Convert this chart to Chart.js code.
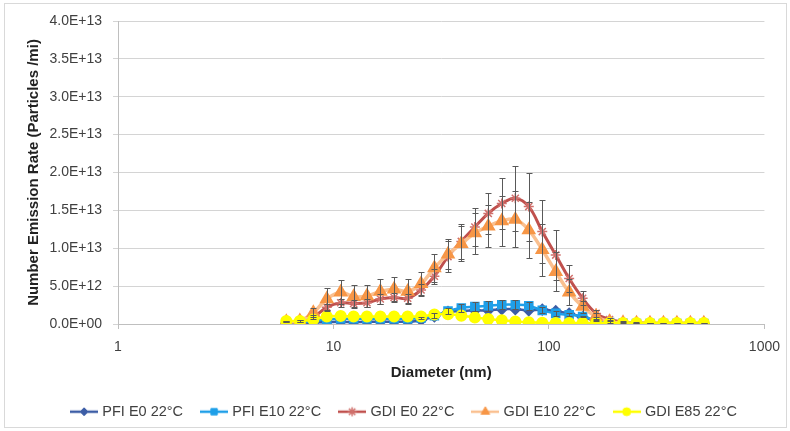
<!DOCTYPE html>
<html>
<head>
<meta charset="utf-8">
<title>Number Emission Rate vs Diameter</title>
<script src="https://cdn.jsdelivr.net/npm/chart.js@4.4.1/dist/chart.umd.min.js"></script>
<style>
  html, body { margin: 0; padding: 0; background: #fff; }
  #wrap { width: 790px; height: 431px; }
</style>
</head>
<body>
<div id="wrap"><canvas id="psd" width="790" height="431"></canvas></div>
<script>
// particle diameters (nm), EEPS channels
var diameters = [6.04, 6.98, 8.06, 9.31, 10.8, 12.4, 14.3, 16.5, 19.1, 22.1, 25.5, 29.4,
  34.0, 39.2, 45.3, 52.3, 60.4, 69.8, 80.6, 93.1, 107.5, 124.1, 143.3, 165.5,
  191.1, 220.7, 254.8, 294.3, 339.8, 392.4, 453.2, 523.3];

var seriesNames = ['PFI E0 22°C', 'PFI E10 22°C', 'GDI E0 22°C', 'GDI E10 22°C', 'GDI E85 22°C'];

var pfiE0 = [0.1e12, 0.1e12, 0.2e12, 0.25e12, 0.3e12, 0.25e12, 0.3e12, 0.3e12, 0.3e12, 0.3e12, 0.5e12, 1.0e12,
  1.6e12, 1.7e12, 1.8e12, 1.8e12, 1.95e12, 1.95e12, 1.8e12, 1.9e12, 1.7e12, 1.4e12, 0.9e12, 0.4e12,
  0.1e12, 0.05e12, 0.05e12, 0.05e12, 0.05e12, 0.05e12, 0.05e12, 0.05e12];

var pfiE10 = [0.2e12, 0.2e12, 0.4e12, 0.6e12, 0.7e12, 0.7e12, 0.7e12, 0.7e12, 0.7e12, 0.7e12, 0.8e12, 1.1e12,
  1.7e12, 2.1e12, 2.3e12, 2.4e12, 2.55e12, 2.55e12, 2.4e12, 1.8e12, 1.4e12, 1.2e12, 1.0e12, 0.5e12,
  0.2e12, 0.1e12, 0.05e12, 0.05e12, 0.05e12, 0.05e12, 0.05e12, 0.05e12];

var gdiE0 = [0.3e12, 0.4e12, 0.9e12, 2.2e12, 2.8e12, 2.7e12, 2.8e12, 3.3e12, 3.5e12, 3.4e12, 4.5e12, 6.3e12,
  8.9e12, 10.9e12, 12.8e12, 14.6e12, 15.9e12, 16.6e12, 15.5e12, 12.2e12, 9.1e12, 6.0e12, 3.4e12, 1.4e12,
  0.6e12, 0.25e12, 0.15e12, 0.12e12, 0.1e12, 0.1e12, 0.1e12, 0.1e12];

var gdiE10 = [0.3e12, 0.4e12, 1.5e12, 3.3e12, 4.2e12, 3.6e12, 3.7e12, 4.3e12, 4.6e12, 4.3e12, 5.3e12, 7.4e12,
  9.2e12, 10.6e12, 12.0e12, 12.9e12, 13.6e12, 13.8e12, 12.4e12, 9.8e12, 6.9e12, 4.2e12, 2.3e12, 1.0e12,
  0.3e12, 0.15e12, 0.1e12, 0.1e12, 0.1e12, 0.1e12, 0.1e12, 0.1e12];

var gdiE85 = [0.4e12, 0.4e12, 0.6e12, 1.0e12, 1.05e12, 1.0e12, 1.0e12, 1.0e12, 1.0e12, 1.0e12, 1.0e12, 1.25e12,
  1.3e12, 1.1e12, 0.85e12, 0.65e12, 0.5e12, 0.32e12, 0.22e12, 0.15e12, 0.12e12, 0.12e12, 0.12e12, 0.12e12,
  0.12e12, 0.12e12, 0.12e12, 0.12e12, 0.12e12, 0.12e12, 0.12e12, 0.12e12];

// +/- error bar sizes
var pfiE10Err = [0, 0, 0, 0, 0, 0, 0, 0, 0, 0, 0.1e12, 0.3e12,
  0.4e12, 0.5e12, 0.6e12, 0.65e12, 0.6e12, 0.6e12, 0.5e12, 0.4e12, 0.3e12, 0.2e12, 0.1e12, 0.05e12,
  0, 0, 0, 0, 0, 0, 0, 0];

var gdiE0Err = [0.1e12, 0.1e12, 0.3e12, 0.5e12, 0.5e12, 0.5e12, 0.5e12, 0.6e12, 0.6e12, 0.6e12, 0.8e12, 1.0e12,
  2.0e12, 2.3e12, 2.5e12, 2.7e12, 3.4e12, 4.3e12, 4.5e12, 4.2e12, 3.3e12, 1.8e12, 0.9e12, 0.5e12,
  0.2e12, 0.1e12, 0.05e12, 0.05e12, 0.05e12, 0.05e12, 0.05e12, 0.05e12];

var gdiE10Err = [0.1e12, 0.1e12, 0.6e12, 1.5e12, 1.6e12, 1.5e12, 1.5e12, 1.7e12, 1.6e12, 1.6e12, 1.5e12, 1.9e12,
  2.0e12, 2.3e12, 2.7e12, 2.75e12, 3.3e12, 3.7e12, 3.7e12, 3.4e12, 2.6e12, 1.7e12, 0.8e12, 0.4e12,
  0.2e12, 0.1e12, 0.05e12, 0.05e12, 0.05e12, 0.05e12, 0.05e12, 0.05e12];

var xTicks = [1, 10, 100, 1000];

function points(vals) {
    return vals.map(function(v, i) { return {x: diameters[i], y: v}; });
}

// 0.0E+00 style labels like excel
function sciLabel(v) {
    if (v === 0) return '0.0E+00';
    var e = Math.floor(Math.log10(v) + 1e-9);
    var m = v / Math.pow(10, e);
    return m.toFixed(1) + 'E+' + String(e).padStart(2, '0');
}

// small line+marker icon for the legend
function legendIcon(lineColor, markerColor, style, radius, fill) {
    var c = document.createElement('canvas');
    c.width = 28; c.height = 12;
    var g = c.getContext('2d');
    g.strokeStyle = lineColor;
    g.lineWidth = 2.5;
    g.beginPath(); g.moveTo(0, 6); g.lineTo(28, 6); g.stroke();
    g.fillStyle = markerColor;
    g.strokeStyle = markerColor;
    g.lineWidth = fill ? 1 : 1.5;
    Chart.helpers.drawPoint(g, {pointStyle: style, radius: radius, rotation: 0, borderWidth: g.lineWidth}, 14, 6);
    return c;
}

var icons = [
    legendIcon('#3C5DA6', '#3C5DA6', 'rectRot', 4, true),
    legendIcon('#1F9FE8', '#1F9FE8', 'rect', 4.5, true),
    legendIcon('#C0504D', '#D0706C', 'star', 4.5, false),
    legendIcon('#FAC090', '#F79646', 'triangle', 5, true),
    legendIcon('#FFFF00', '#FFFF00', 'circle', 4, true)
];

var errorBars = {
    id: 'errorBars',
    afterDatasetsDraw: function(chart) {
        var ctx = chart.ctx, xs = chart.scales.x, ys = chart.scales.y, area = chart.chartArea;
        ctx.save();
        ctx.beginPath();
        ctx.rect(area.left, area.top, area.right - area.left, area.bottom - area.top);
        ctx.clip();
        ctx.strokeStyle = '#595959';
        ctx.lineWidth = 1;
        chart.data.datasets.forEach(function(ds) {
            if (!ds.errors) return;
            ds.data.forEach(function(p, j) {
                var e = ds.errors[j];
                if (!e) return;
                var px = Math.round(xs.getPixelForValue(p.x)) + 0.5;
                var top = Math.round(ys.getPixelForValue(p.y + e)) + 0.5;
                var bot = Math.round(ys.getPixelForValue(p.y - e)) + 0.5;
                ctx.beginPath();
                ctx.moveTo(px, top); ctx.lineTo(px, bot);
                ctx.moveTo(px - 3, top); ctx.lineTo(px + 3, top);
                ctx.moveTo(px - 3, bot); ctx.lineTo(px + 3, bot);
                ctx.stroke();
            });
        });
        ctx.restore();
    }
};

var frame = {
    id: 'frame',
    beforeDraw: function(chart) {
        var ctx = chart.ctx;
        ctx.save();
        ctx.fillStyle = '#fff';
        ctx.fillRect(0, 0, chart.width, chart.height);
        ctx.strokeStyle = '#D9D9D9';
        ctx.lineWidth = 1;
        ctx.strokeRect(4.5, 3.5, 782, 424);
        ctx.restore();
    }
};

Chart.defaults.font.family = '"Liberation Sans", Arial, sans-serif';
Chart.defaults.color = '#404040';

var ctx = document.getElementById('psd').getContext('2d');
var chart = new Chart(ctx, {
    type: 'line',
    data: {
        datasets: [{
            label: seriesNames[0],
            data: points(pfiE0),
            borderColor: '#3C5DA6',
            backgroundColor: '#3C5DA6',
            pointStyle: 'rectRot',
            pointRadius: 4.5,
            borderWidth: 2.5,
            order: 4
        }, {
            label: seriesNames[1],
            data: points(pfiE10),
            errors: pfiE10Err,
            borderColor: '#1F9FE8',
            backgroundColor: '#1F9FE8',
            pointStyle: 'rect',
            pointRadius: 5,
            borderWidth: 2.5,
            order: 3
        }, {
            label: seriesNames[2],
            data: points(gdiE0),
            errors: gdiE0Err,
            borderColor: '#C0504D',
            backgroundColor: '#C0504D',
            pointStyle: 'star',
            pointRadius: 5,
            pointBorderColor: '#D0706C',
            pointBorderWidth: 1.5,
            borderWidth: 3,
            order: 2
        }, {
            label: seriesNames[3],
            data: points(gdiE10),
            errors: gdiE10Err,
            borderColor: '#FAC090',
            backgroundColor: '#F79646',
            pointBackgroundColor: '#F79646',
            pointBorderColor: '#F79646',
            pointStyle: 'triangle',
            pointRadius: 5,
            borderWidth: 3.5,
            order: 1
        }, {
            label: seriesNames[4],
            data: points(gdiE85),
            borderColor: '#FFFF00',
            backgroundColor: '#FFFF00',
            pointStyle: 'circle',
            pointRadius: 4.8,
            borderWidth: 2.5,
            order: 0
        }]
    },
    options: {
        responsive: false,
        animation: false,
        devicePixelRatio: 1,
        layout: { padding: { left: 44, right: 24, top: 21, bottom: 2 } },
        elements: { line: { tension: 0.4, fill: false } },
        plugins: {
            tooltip: { enabled: false },
            legend: {
                position: 'bottom',
                align: 'center',
                labels: {
                    usePointStyle: true,
                    pointStyleWidth: 22,
                    padding: 20,
                    font: { size: 14.5 },
                    color: '#404040',
                    generateLabels: function(chart) {
                        var items = Chart.defaults.plugins.legend.labels.generateLabels(chart);
                        items.forEach(function(it) { it.pointStyle = icons[it.datasetIndex]; it.rotation = 0; });
                        return items;
                    },
                    sort: function(a, b) { return a.datasetIndex - b.datasetIndex; }
                }
            }
        },
        scales: {
            x: {
                type: 'logarithmic',
                min: 1,
                max: 1000,
                afterBuildTicks: function(scale) {
                    scale.ticks = xTicks.map(function(v) { return {value: v}; });
                },
                afterFit: function(scale) { scale.height = 60.5; },
                ticks: {
                    autoSkip: false,
                    maxRotation: 0,
                    padding: 10,
                    font: { size: 14 },
                    callback: function(v) { return String(v); }
                },
                grid: { drawOnChartArea: false, color: '#BFBFBF', tickLength: 5 },
                border: { color: '#BFBFBF' },
                title: {
                    display: true,
                    text: 'Diameter (nm)',
                    font: { size: 15, weight: 'bold' },
                    color: '#222',
                    padding: { top: 0, bottom: 2.5 }
                }
            },
            y: {
                min: 0,
                max: 4e13,
                afterFit: function(scale) { scale.width = 74; },
                ticks: {
                    stepSize: 5e12,
                    padding: 11,
                    font: { size: 14 },
                    callback: function(v) { return sciLabel(v); }
                },
                grid: { color: '#D4D4D4', tickLength: 5 },
                border: { color: '#BFBFBF' },
                title: {
                    display: true,
                    text: 'Number Emission Rate (Particles /mi)',
                    font: { size: 15, weight: 'bold' },
                    color: '#222',
                    padding: { top: -19, bottom: 0 }
                }
            }
        }
    },
    plugins: [frame, errorBars]
});
</script>
</body>
</html>
